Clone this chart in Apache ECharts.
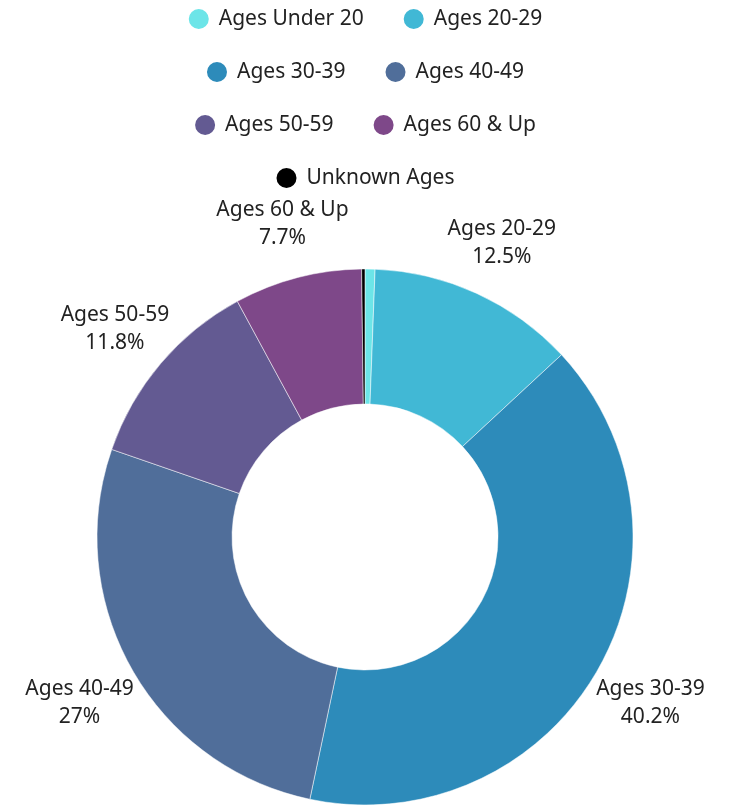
<!DOCTYPE html>
<html>
<head>
<meta charset="utf-8">
<script src="https://cdn.jsdelivr.net/npm/echarts@6/dist/echarts.min.js"></script>
<style>
  html, body { margin: 0; padding: 0; background: #fff; }
  #chart { width: 729px; height: 805px; }
</style>
</head>
<body>
<div id="chart"></div>
<script>
var names = ['Ages Under 20', 'Ages 20-29', 'Ages 30-39', 'Ages 40-49', 'Ages 50-59', 'Ages 60 & Up', 'Unknown Ages'];
var values = [0.6, 12.5, 40.2, 27, 11.8, 7.7, 0.2];
var colors = ['#6ce5e8', '#41b8d5', '#2d8bba', '#506e9a', '#635a92', '#7e4889', '#000000'];
var hideLabel = ['Ages Under 20', 'Unknown Ages'];
// legend rows, each centred on its own
var legendRows = [
    ['Ages Under 20', 'Ages 20-29'],
    ['Ages 30-39', 'Ages 40-49'],
    ['Ages 50-59', 'Ages 60 & Up'],
    ['Unknown Ages']
];

var font = 'Noto Sans';
var chart = echarts.init(document.getElementById('chart'));

var pieData = names.map(function (n, i) {
    return { name: n, value: values[i], itemStyle: { color: colors[i] } };
});
var labelData = names.map(function (n, i) {
    return {
        name: n,
        value: values[i],
        label: { show: hideLabel.indexOf(n) < 0 }
    };
});

var legends = legendRows.map(function (row, i) {
    return {
        data: row,
        top: 2 + i * 53,
        left: 'center',
        icon: 'circle',
        itemWidth: 22,
        itemHeight: 22,
        itemGap: 38,
        selectedMode: false,
        textStyle: {
            fontFamily: font,
            fontSize: 21,
            color: '#222',
            padding: [0, 0, 0, 4]
        }
    };
});

var option = {
    animation: false,
    color: colors,
    legend: legends,
    series: [
        {
            type: 'pie',
            center: [365, 537],
            radius: [133, 268],
            startAngle: 90,
            clockwise: true,
            label: { show: false },
            labelLine: { show: false },
            itemStyle: { borderColor: '#fff', borderWidth: 0.5 },
            emphasis: { disabled: true },
            data: pieData
        },
        {
            // invisible ring only used to place the labels
            type: 'pie',
            center: [365, 537],
            radius: [305, 345],
            startAngle: 90,
            clockwise: true,
            silent: true,
            itemStyle: { color: 'rgba(0,0,0,0)' },
            labelLine: { show: false },
            label: {
                position: 'inside',
                formatter: function (p) { return p.name + '\n' + p.value + '%'; },
                fontFamily: font,
                fontSize: 21,
                lineHeight: 28,
                color: '#222',
                offset: [0, 4]
            },
            emphasis: { disabled: true },
            data: labelData
        }
    ]
};
chart.setOption(option);
</script>
</body>
</html>
